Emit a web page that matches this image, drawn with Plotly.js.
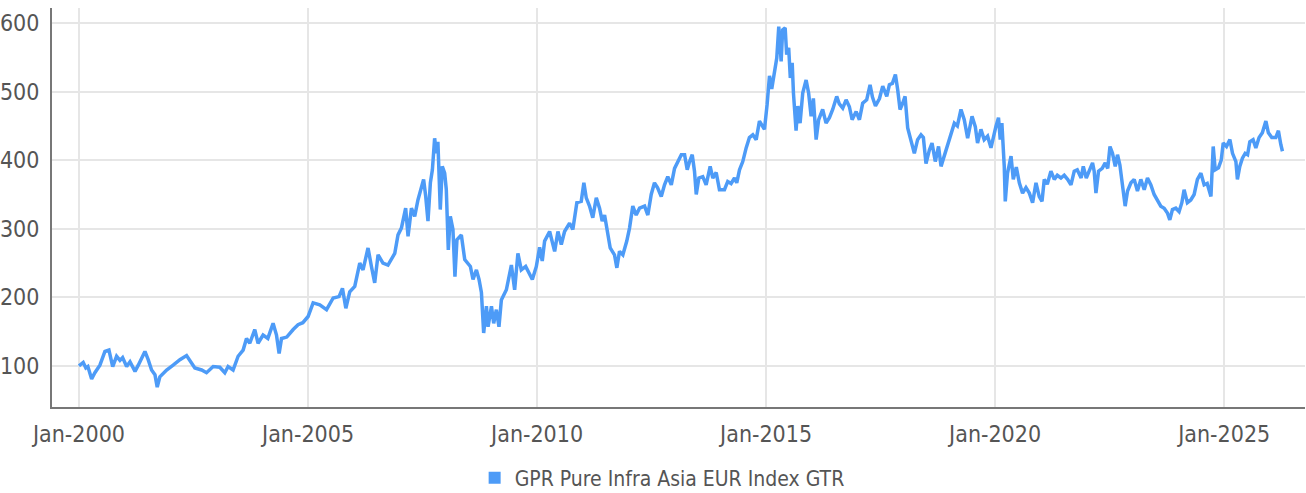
<!DOCTYPE html>
<html>
<head>
<meta charset="utf-8">
<script src="https://cdn.plot.ly/plotly-3.0.1.min.js"></script>
<style>
html,body{margin:0;padding:0;background:#fff;}
#chart{width:1306px;height:493px;}
</style>
</head>
<body>
<div id="chart"></div>
<script>
// Decimal years
const years = [
2000.000,2000.094,2000.153,2000.196,2000.277,2000.349,2000.458,2000.567,2000.654,2000.735,2000.822,2000.894,2000.953,
2001.041,2001.113,2001.222,2001.294,2001.440,2001.512,2001.586,2001.658,2001.708,2001.767,2001.913,
2002.057,2002.203,2002.349,2002.421,2002.531,2002.677,2002.786,2002.930,
2003.076,2003.185,2003.257,2003.366,2003.475,2003.584,2003.658,2003.730,2003.839,2003.911,
2004.021,2004.123,2004.239,2004.313,2004.370,2004.422,2004.538,2004.675,2004.784,2004.887,
2005.002,2005.111,2005.257,2005.404,2005.548,2005.679,2005.753,2005.825,2005.912,
2006.021,2006.130,2006.202,2006.311,2006.385,2006.457,2006.529,2006.638,2006.747,2006.822,2006.894,2006.966,
2007.040,2007.133,2007.184,2007.258,2007.330,2007.402,2007.476,2007.526,2007.570,2007.620,2007.672,2007.716,2007.766,2007.803,2007.838,2007.890,2007.934,2007.984,
2008.021,2008.065,2008.108,2008.165,2008.209,2008.253,2008.349,2008.421,2008.545,2008.602,2008.676,2008.733,2008.785,2008.835,2008.894,2008.929,
2009.003,2009.053,2009.112,2009.169,2009.221,2009.330,2009.439,2009.511,2009.583,2009.657,2009.751,2009.898,2009.985,
2010.057,2010.115,2010.166,2010.275,2010.384,2010.456,2010.530,2010.602,2010.711,2010.783,2010.871,2010.966,
2011.023,2011.075,2011.147,2011.219,2011.294,2011.366,2011.424,2011.475,2011.547,2011.599,2011.693,2011.743,2011.802,2011.874,2011.961,
2012.020,2012.092,2012.166,2012.238,2012.347,2012.419,2012.493,2012.565,2012.631,2012.711,2012.783,2012.855,2012.930,
2013.002,2013.074,2013.148,2013.220,2013.279,2013.329,2013.388,2013.438,2013.475,2013.532,2013.619,2013.693,2013.780,2013.837,2013.911,2013.983,
2014.092,2014.164,2014.238,2014.311,2014.361,2014.420,2014.492,2014.566,2014.638,2014.710,2014.784,2014.856,2014.965,
2015.024,2015.074,2015.124,2015.183,2015.233,2015.277,2015.329,2015.364,2015.417,2015.452,2015.495,2015.530,2015.570,2015.600,2015.657,2015.694,2015.744,2015.801,2015.875,2015.931,2015.984,
2016.034,2016.093,2016.150,2016.237,2016.311,2016.383,2016.455,2016.543,2016.601,2016.673,2016.747,2016.819,2016.878,2016.965,
2017.037,2017.109,2017.197,2017.271,2017.321,2017.387,2017.474,2017.546,2017.633,2017.692,2017.757,2017.823,2017.873,2017.925,2017.982,
2018.034,2018.091,2018.165,2018.237,2018.309,2018.383,2018.434,2018.493,2018.565,2018.623,2018.695,2018.767,2018.820,2018.892,2018.964,
2019.038,2019.110,2019.176,2019.256,2019.328,2019.400,2019.496,2019.568,2019.618,2019.692,2019.764,2019.836,2019.910,2019.960,
2020.019,2020.076,2020.113,2020.150,2020.201,2020.222,2020.273,2020.347,2020.397,2020.462,2020.528,2020.600,2020.674,2020.746,2020.818,2020.892,2020.964,
2021.023,2021.073,2021.139,2021.219,2021.291,2021.357,2021.437,2021.509,2021.581,2021.656,2021.728,2021.793,2021.877,2021.924,2021.990,
2022.055,2022.127,2022.164,2022.201,2022.258,2022.339,2022.404,2022.459,2022.507,2022.563,2022.622,2022.673,2022.725,2022.782,2022.841,2022.891,2022.965,
2023.037,2023.109,2023.183,2023.255,2023.327,2023.401,2023.473,2023.545,2023.619,2023.692,2023.764,2023.815,2023.872,2023.946,
2024.018,2024.077,2024.127,2024.199,2024.273,2024.345,2024.417,2024.492,2024.564,2024.629,2024.711,2024.760,2024.804,2024.876,2024.935,2024.979,
2025.050,2025.124,2025.181,2025.255,2025.290,2025.342,2025.399,2025.458,2025.512,2025.560,2025.632,2025.691,2025.763,2025.835,2025.910,2025.966,
2026.041,2026.128,2026.185,2026.237,2026.272
];
// Index level (GTR, EUR)
const values = [
100,105,97,99,81,90,101,121,123,99,114,108,112,
99,106,92,101,121,109,94,87,69,84,94,
101,109,115,108,97,94,90,99,
98,90,99,94,114,123,140,133,153,133,
145,140,162,145,118,140,142,153,160,163,
172,192,189,182,199,201,213,184,208,
216,250,240,272,245,221,262,250,247,255,264,291,
301,330,289,330,318,342,359,372,347,311,367,386,432,410,427,328,391,381,
357,269,318,299,230,284,291,255,245,226,240,226,207,148,187,157,
187,162,182,157,196,211,247,211,264,240,245,226,245,
273,253,282,296,267,296,277,296,308,299,338,340,
367,345,333,316,345,330,311,320,296,272,262,243,267,262,282,
301,333,320,330,333,320,350,367,360,347,364,376,364,
388,398,408,408,386,398,408,384,350,374,376,364,391,374,382,357,
357,369,366,374,367,386,398,418,433,437,430,457,445,
481,523,504,532,549,595,544,590,593,554,564,520,542,498,443,479,454,498,517,498,464,
490,430,459,474,454,462,474,493,482,476,488,478,459,471,
459,483,488,510,492,479,490,508,493,510,512,525,503,474,483,
493,447,430,410,430,437,433,395,415,425,398,420,391,406,420,
435,454,450,474,459,432,464,449,425,445,430,435,418,435,
449,462,430,454,391,340,381,406,372,390,367,352,360,352,338,367,347,
340,372,365,384,372,378,374,378,372,364,384,386,374,391,374,
386,396,384,352,384,388,396,388,420,410,391,408,393,362,333,355,367,
372,355,372,357,374,364,350,342,333,330,323,313,328,330,
325,338,357,338,342,350,372,381,364,366,347,420,386,389,400,425,
420,430,410,398,372,391,403,410,408,427,430,418,433,440,457,440,
433,433,443,423,413
];
const seriesName = "GPR Pure Infra Asia EUR Index GTR";
const tickYears = [2000, 2005, 2010, 2015, 2020, 2025];
const yTicks = [100, 200, 300, 400, 500, 600];

function yearToDate(t) {
  const y = Math.floor(t);
  const a = Date.UTC(y, 0, 1), b = Date.UTC(y + 1, 0, 1);
  return new Date(a + (t - y) * (b - a)).toISOString().slice(0, 10);
}
const dates = years.map(yearToDate);
const tickDates = tickYears.map(y => y + "-01-01");

const lineColor = "#4d9bf7";
const fontFam = "'DejaVu Sans Condensed', Roboto, sans-serif";

const traces = [
  {
    type: "scatter", mode: "lines", x: dates, y: values, name: seriesName,
    line: {color: lineColor, width: 3.5}, showlegend: false, hoverinfo: "x+y"
  },
  {
    type: "bar", x: [null], y: [null], name: seriesName,
    marker: {color: lineColor}, showlegend: true, hoverinfo: "skip"
  }
];

const layout = {
  width: 1306, height: 493,
  margin: {l: 52, r: 1, t: 8, b: 86},
  paper_bgcolor: "#fff", plot_bgcolor: "#fff",
  font: {family: fontFam, size: 23, color: "#555"},
  showlegend: true,
  legend: {orientation: "h", x: 0.507, xanchor: "center", xref: "container",
           y: 0.03, yanchor: "middle", yref: "container",
           font: {family: fontFam, size: 21, color: "#555"}, itemwidth: 30, itemclick: false},
  xaxis: {
    type: "date",
    range: ["1999-05-31", "2026-10-07"],
    tickvals: tickDates, tickformat: "%b-%Y",
    showgrid: true, gridcolor: "#e6e6e6", gridwidth: 2,
    showline: true, linecolor: "#777", linewidth: 2,
    ticks: "outside", ticklen: 5, tickcolor: "rgba(0,0,0,0)",
    zeroline: false, fixedrange: true, automargin: false
  },
  yaxis: {
    range: [40, 622],
    tickvals: yTicks,
    showgrid: true, gridcolor: "#e6e6e6", gridwidth: 2,
    showline: true, linecolor: "#777", linewidth: 2,
    ticks: "outside", ticklen: 6, tickcolor: "rgba(0,0,0,0)",
    zeroline: false, fixedrange: true, automargin: false
  }
};

Plotly.newPlot("chart", traces, layout, {displayModeBar: false, staticPlot: true});
</script>
</body>
</html>
